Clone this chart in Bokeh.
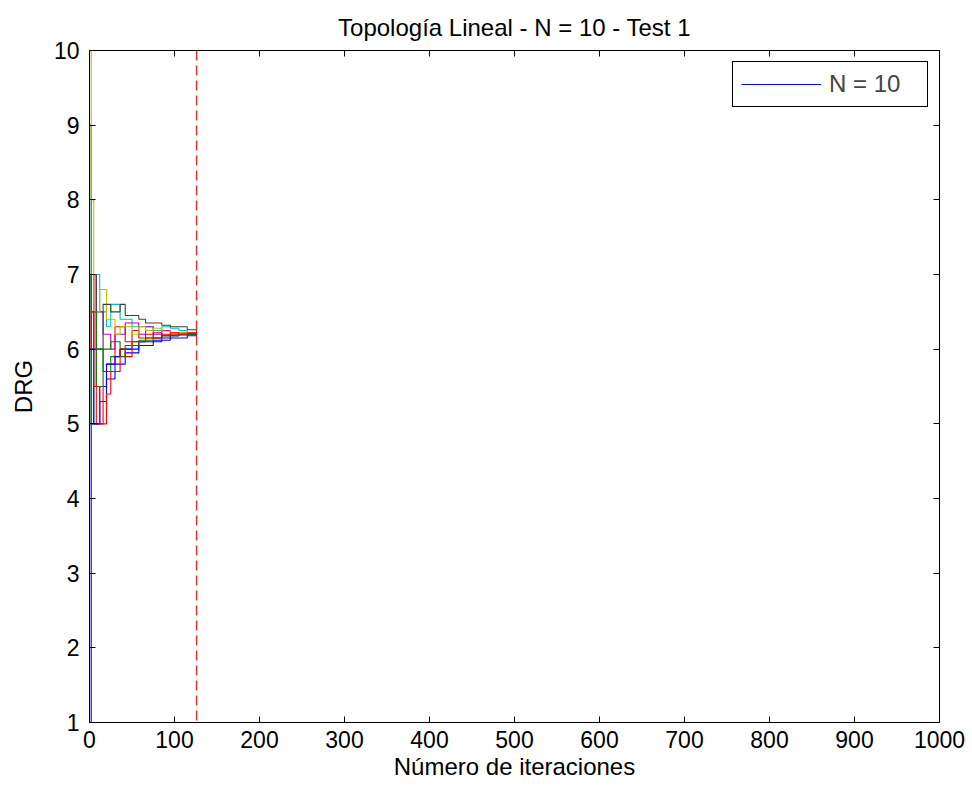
from bokeh.plotting import figure
from bokeh.models import (Span, Legend, LegendItem, LinearAxis, FixedTicker, Range1d)
from bokeh.embed import file_html
from bokeh.resources import INLINE

# ---- data ----
iterations = [0, 2, 5, 8, 12, 16, 20, 25, 30, 36, 42, 50, 58, 66, 75, 85, 95, 105, 115, 126]
node1 = [1, 5.0, 5.0, 5.0, 5.3, 5.3, 5.6, 5.6, 5.8, 5.8, 5.95, 5.95, 6.05, 6.05, 6.1, 6.12, 6.15, 6.15, 6.18, 6.2]
node2 = [9, 5.0, 6.0, 6.0, 6.0, 5.7, 5.7, 5.9, 5.9, 6.0, 6.0, 6.1, 6.1, 6.15, 6.15, 6.18, 6.18, 6.2, 6.2, 6.21]
node3 = [7, 7.0, 6.0, 5.0, 5.0, 5.5, 5.8, 5.8, 6.3, 6.3, 6.1, 6.25, 6.15, 6.15, 6.22, 6.18, 6.2, 6.22, 6.2, 6.21]
node4 = [5, 6.0, 6.0, 7.0, 6.5, 6.5, 6.3, 6.6, 6.6, 6.4, 6.4, 6.3, 6.3, 6.3, 6.25, 6.3, 6.28, 6.25, 6.22, 6.21]
node5 = [6, 6.0, 7.0, 6.5, 6.5, 6.2, 6.2, 6.0, 6.2, 6.2, 6.35, 6.35, 6.2, 6.3, 6.2, 6.25, 6.22, 6.22, 6.21, 6.2]
node6 = [10, 8.0, 6.5, 6.5, 6.8, 6.8, 6.4, 6.4, 6.2, 6.3, 6.3, 6.2, 6.3, 6.25, 6.28, 6.24, 6.22, 6.22, 6.22, 6.21]
node7 = [5, 7.0, 7.0, 6.0, 6.0, 6.6, 6.6, 6.5, 6.5, 6.6, 6.45, 6.45, 6.4, 6.35, 6.35, 6.32, 6.3, 6.3, 6.26, 6.22]
node8 = [6, 6.0, 5.0, 5.0, 5.5, 5.5, 5.8, 5.8, 5.9, 6.0, 6.0, 6.0, 6.1, 6.1, 6.12, 6.15, 6.18, 6.19, 6.2, 6.2]
node9 = [7, 6.5, 6.5, 5.5, 5.5, 6.0, 6.0, 6.1, 6.1, 5.9, 6.05, 6.05, 6.12, 6.12, 6.15, 6.18, 6.18, 6.2, 6.2, 6.21]
node10 = [6, 6.5, 5.5, 5.5, 5.0, 5.0, 5.4, 5.7, 5.7, 6.0, 5.9, 6.1, 6.1, 6.2, 6.15, 6.2, 6.22, 6.2, 6.22, 6.2]
nodes = [node1, node2, node3, node4, node5, node6, node7, node8, node9, node10]
convergence_iter = 126
x_ticks = [0, 100, 200, 300, 400, 500, 600, 700, 800, 900, 1000]
y_ticks = [1, 2, 3, 4, 5, 6, 7, 8, 9, 10]
legend_label = "N = 10"

colors = ["#0000ff", "#008000", "#ff0000", "#00bfbf", "#bf00bf",
          "#bfbf00", "#404040"]

FONT = "Liberation Sans"
TICK_SIZE = "23px"
LABEL_SIZE = "24px"

p = figure(width=972, height=794, output_backend="svg", toolbar_location=None,
           x_range=Range1d(0, 1000), y_range=Range1d(1, 10),
           min_border_left=89, min_border_right=33, min_border_top=50,
           min_border_bottom=72,
           title="Topología Lineal - N = 10 - Test 1")

p.title.align = "center"
p.title.text_font = FONT
p.title.text_font_size = LABEL_SIZE
p.title.text_font_style = "normal"
p.title.text_color = "black"
p.title.standoff = 20

p.xgrid.visible = False
p.ygrid.visible = False
p.outline_line_color = "black"
p.outline_line_width = 1
p.outline_line_alpha = 1
p.background_fill_color = "white"
p.border_fill_color = "white"

renderers = []
for i, vals in enumerate(nodes):
    r = p.step(iterations, vals, mode="after", line_color=colors[i % len(colors)],
               line_width=1.1)
    renderers.append(r)

p.add_layout(Span(location=convergence_iter, dimension="height", line_color="#d83434",
                  line_dash="10 5", line_width=1.5))

for ax, ticks in ((p.xaxis[0], x_ticks), (p.yaxis[0], y_ticks)):
    ax.ticker = FixedTicker(ticks=ticks)
    ax.minor_tick_line_color = None
    ax.major_tick_in = 6
    ax.major_tick_out = 0
    ax.axis_line_color = "black"
    ax.major_tick_line_color = "black"
    ax.major_label_text_font = FONT
    ax.major_label_text_font_size = TICK_SIZE
    ax.major_label_text_color = "black"
    ax.axis_label_text_font = FONT
    ax.axis_label_text_font_size = LABEL_SIZE
    ax.axis_label_text_font_style = "normal"
    ax.axis_label_text_color = "black"

p.xaxis[0].axis_label = "Número de iteraciones"
p.yaxis[0].axis_label = "DRG"
p.xaxis[0].major_label_standoff = 8
p.yaxis[0].major_label_standoff = 10
p.xaxis[0].axis_label_standoff = 2
p.yaxis[0].axis_label_standoff = 14

top_ax = LinearAxis(ticker=FixedTicker(ticks=x_ticks), major_tick_in=6, major_tick_out=0,
                    minor_tick_line_color=None, major_label_text_font_size="0px",
                    axis_line_color="black")
right_ax = LinearAxis(ticker=FixedTicker(ticks=y_ticks), major_tick_in=6, major_tick_out=0,
                      minor_tick_line_color=None, major_label_text_font_size="0px",
                      axis_line_color="black")
p.add_layout(top_ax, "above")
p.add_layout(right_ax, "right")

legend = Legend(items=[LegendItem(label=legend_label, renderers=[renderers[0]])],
                location="top_right")
legend.label_text_font = FONT
legend.label_text_font_size = LABEL_SIZE
legend.glyph_width = 80
legend.glyph_height = 20
legend.label_standoff = 8
legend.label_width = 90
legend.padding = 8
legend.spacing = 0
legend.margin = 11
legend.border_line_color = "black"
legend.border_line_alpha = 1
legend.border_line_width = 1
legend.background_fill_color = "white"
legend.background_fill_alpha = 1
p.add_layout(legend, "center")

open("out.html", "w").write(file_html(p, INLINE))
